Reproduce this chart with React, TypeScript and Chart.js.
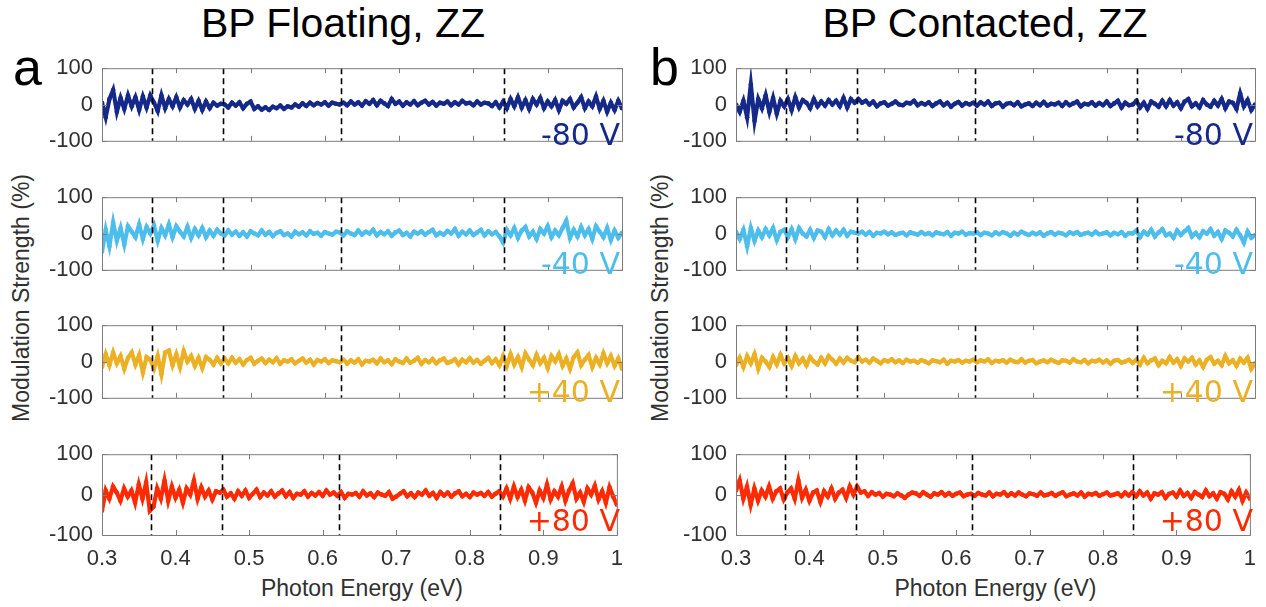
import React, { useEffect, useRef } from "react";
import { Chart, registerables } from "chart.js";

Chart.register(...registerables);

// ---------- data ----------
const energyMin = 0.3;
const energyMax = 1.0;
const xTickValues = [0.3, 0.4, 0.5, 0.6, 0.7, 0.8, 0.9, 1.0];
const xTickLabels = ["0.3", "0.4", "0.5", "0.6", "0.7", "0.8", "0.9", "1"];
const yTickValues = [-100, 0, 100];
const yTickLabels = ["-100", "0", "100"];
const markerEnergies = [0.367, 0.463, 0.622, 0.841];
const voltageLabels = ["-80 V", "-40 V", "+40 V", "+80 V"];
const seriesColors = ["#15298a", "#4dbdec", "#ecb025", "#ff2a00"];
const panelTitles = ["BP Floating, ZZ", "BP Contacted, ZZ"];
const panelLetters = ["a", "b"];
const xAxisTitle = "Photon Energy (eV)";
const yAxisTitle = "Modulation Strength (%)";

const floatingM80 = [
  5, -35, 15, 40, -20, 18, -12, 25, -5, 20, -15, 22, -8, 25,
  5, -18, 25, -10, 15, -5, 20, -8, 12, 0, 15, -12, 10, -15, 8, -10, 5, -3, 2,
  0, -8, 5, -3, 6, -10, 2, 8, -12, -5, -14, -8, -15, -6, -10, -3, -12, -5, -8, 0, -6, 3, -4, 5, -2, 4, 0, 6, -3, 5, 2,
  0, 5, -2, 8, 0, 6, -3, 9, 2, 12, -2, 10, 3, -4, 15, 2, 8, -3, 6, 0, 9, -2, 5, 10, 0, 7, -3, 5, 2, 8, -2, 6, 0, 10, 3, 5, -2, 8, 0, 5, 3, -4, 6, -8,
  8, -10, 15, -5, 20, -8, 12, -12, 15, 0, 18, -10, 8, -5, 12, -15, 10, 2, 15, -8, 5, 20, -10, 8, -5, 22, -12, 10, -20, 5, -15, 10, -10,
];
const floatingM40 = [
  -50, 10, -35, 30, -20, 15, -30, 20, 5, -10, 25, -15, 18, 0,
  22, -20, 15, -5, 25, -10, 20, 5, -8, 18, -12, 12, -5, 15, -10, 8, -6, 10, 0,
  -5, 8, -3, 5, -6, 3, -8, 6, 0, -5, 8, -3, 4, -7, 2, 6, -4, 0, -8, 5, -2, 3, -5, 6, -1, 2, -6, 4, 0, -3, 5,
  3, -5, 6, 0, -4, 8, -3, 5, 0, 10, -5, 4, -2, 6, -6, 3, 8, -4, 2, -8, 5, 0, 6, -3, 4, 10, -5, 2, -3, 7, 0, 12, -6, 5, -2, 8, -4, 3, 10, -5, 6, -2, 4, -8,
  -25, 10, -5, 15, -12, 8, 18, -8, 5, -15, 12, 0, 20, -10, 8, -5, 15, 35, -12, 10, -8, 18, -5, 12, -15, 20, 5, -10, 15, -18, 8, -12, 2,
];
const floatingP40 = [
  -15, 20, -10, 25, -5, 15, -20, 10, 25, -8, 18, -30, 12, 5,
  -20, 15, -35, 25, 30, -10, 20, -15, 28, 0, 15, -12, 10, -18, 12, 5, -8, 10, -5,
  8, -5, 10, -3, 6, -8, 4, 10, -6, 2, 8, -4, 5, -2, 9, -6, 3, 0, 6, -5, 2, 8, -3, 5, -8, 4, 0, 6, -4, 3, 1,
  -2, 5, -6, 3, -3, 6, -8, 2, 0, 5, -5, 8, -2, 3, -7, 6, 0, -4, 8, -3, 2, 10, -6, 4, -2, 7, -5, 3, 8, -4, 0, 6, -8, 5, -2, 9, -3, 4, -6, 2, 10, -4, 6, -10,
  15, -12, 20, -8, 12, -15, 22, 5, -10, 18, -5, 10, -18, 15, 0, 20, -12, 8, -20, 12, 25, -10, 5, 18, -15, 10, -8, 22, -5, 15, -12, 8, -20,
];
const floatingP80 = [
  -40, 10, -10, 20, 5, -15, 15, -5, 10, -20, 25, -10, 30, -40,
  -30, 15, -10, 35, -15, 20, -8, 12, -20, 15, 0, 35, -10, 18, -5, 10, -12, 8, 5,
  12, -5, 3, -10, 8, -3, 10, -8, 2, 12, -6, 5, -2, 8, -5, 3, 10, -4, 6, -8, 2, 0, 8, -5, 4, -2, 6, -3, 10, 0, 5,
  -3, 6, -8, 2, 0, 4, -5, 8, -2, 3, -6, 5, 0, -3, 6, -10, -5, 2, 8, -4, 3, -6, 5, 0, 10, -3, 4, -8, 6, -2, 5, -5, 3, 8, -4, 2, -6, 5, 0, 4, -3, 6, -5, 2,
  8, -5, 15, -10, 20, -6, 12, -15, 18, 5, -20, 10, -8, 25, -12, 8, -5, 20, -15, 10, 28, -10, 5, -18, 15, 0, 22, -12, 8, -20, 18, -5, -25,
];
const contactedM80 = [
  0, -20, 10, -35, 55, -45, 15, -10, 25, -20, 18, -25, 10, -5,
  15, -15, 20, -8, 12, 5, -10, 15, -5, 8, -3, 12, 0, 10, -5, 18, -8, 15, 5,
  15, 5, 10, 0, 8, -5, 3, 6, -3, 2, 8, 0, -2, 5, 3, 10, -2, 4, 0, 6, -4, 3, 8, -2, 5, -6, 2, 7, -3, 4, 0,
  5, -3, 6, 0, 8, -4, 3, 5, -6, 2, 4, -2, 6, -5, 0, 3, -4, 5, -2, 7, -3, 2, 0, 5, -4, 6, -2, 3, 8, -5, 2, 0, 6, -3, 4, -2, 8, -4, 3, 10, -8, 5, -2, 0,
  10, -8, 5, -12, 8, 2, -6, 10, -5, 12, -3, 6, -10, 8, 15, -5, 3, -8, 12, 0, -6, 10, -3, 15, -10, 8, 5, -12, 30, -5, 12, -15, 0,
];
const contactedM40 = [
  5, -15, 10, -35, 15, -20, 8, -10, 12, -5, 15, -18, 5, 10,
  -10, 12, -15, 15, 0, -8, 10, -12, 8, 5, -10, 12, -5, 8, -3, 10, -6, 5, 2,
  0, 5, -3, 4, -6, 2, 0, 5, -2, 3, -4, 0, 2, -5, 3, 0, -3, 4, -2, 1, -5, 3, 0, -2, 4, -6, 2, 0, 5, -3, 1,
  0, 3, -4, 2, 0, -5, 3, -2, 4, 0, -6, 2, -3, 5, 0, -4, 2, -2, 3, -6, 0, 4, -3, 2, 0, -5, 3, -1, 4, -4, 0, 2, -3, 5, -2, 0, 3, -5, 2, -2, 4, -6, 1, 0,
  8, -10, 5, -3, 10, -8, 3, 12, -5, 0, -12, 8, -4, 6, 15, -8, 2, -10, 6, 0, 12, -6, 4, -15, 8, 2, -8, 10, -5, -25, 5, -12, -5,
];
const contactedP40 = [
  -10, 10, -15, 15, -5, 20, -20, 10, 0, -15, 12, -8, 18, -5,
  10, -12, 15, -5, 8, -10, 12, 0, -8, 10, -5, 15, 5, -6, 8, -3, 10, 2, -2,
  12, 0, 5, -3, 8, 2, -5, 4, 0, 6, -2, 3, -4, 5, 0, 2, -3, 4, 0, -5, 3, 1, -2, 5, -6, 2, 0, 4, -3, 2, 0,
  5, -2, 3, 0, 6, -4, 2, 0, 4, -3, 5, 0, -2, 6, -3, 2, 4, -5, 0, 3, -2, 5, 0, -4, 3, 2, -3, 6, 0, -2, 4, -5, 2, 0, 5, -3, 3, -6, 2, 4, -3, 0, 5, -4,
  5, -8, 10, -5, 3, 8, -10, 2, -5, 12, -3, 6, -12, 8, 0, 10, -8, 3, -15, 5, 12, -6, 2, -10, 15, -5, 3, -12, 8, -3, 10, -20, -5,
];
const contactedP80 = [
  10, 35, -10, 20, -25, 15, -15, 10, -5, 20, -10, 8, 15, -12,
  5, 15, -10, 35, -8, 12, -15, 5, 10, -18, 8, -5, 15, -10, 5, 12, -8, 20, 0,
  20, 5, 8, -3, 6, 0, 4, -5, 2, 0, -4, 3, -2, -8, 0, 5, 3, -3, 6, 0, -5, 3, 0, 6, -2, 4, -3, 2, 5, -4, 0,
  2, -3, 4, 0, -2, 5, -4, 2, 0, 6, -3, 3, -2, 5, 0, -4, 3, 1, -3, 5, -2, 0, 4, -3, 2, 6, -4, 0, 3, -2, 5, -5, 2, 0, 4, -3, 1, 5, -2, 0, 3, -4, 5, -2,
  6, -4, 8, -2, 5, -10, 3, 0, 6, -8, 2, 5, -5, 10, -3, 4, -8, 6, 0, -6, 10, -4, 3, -10, 6, 2, -12, 8, -5, 12, -15, 5, -10,
];

const floatingSeries = [floatingM80, floatingM40, floatingP40, floatingP80];
const contactedSeries = [contactedM80, contactedM40, contactedP40, contactedP80];

// ---------- layout ----------
const panelLefts = [102, 736];
const panelWidths = [520, 519];
const rowTops = [60, 189, 317, 446];
const rowHeight = 89;
const Y_AXIS_W = 62;
const PAD_TOP = 14;
const PAD_RIGHT = 12;
const X_AXIS_H = 40;
const FONT = "'Liberation Sans', Arial, Helvetica, sans-serif";
const TICK_COLOR = "#303030";

const framePlugin = {
  id: "matlabFrame",
  afterDatasetsDraw(chart: any) {
    const { ctx, chartArea, scales } = chart;
    const { left, right, top, bottom } = chartArea;
    const x = scales.x;
    const y = scales.y;
    ctx.save();
    // dashed markers
    ctx.strokeStyle = "#000000";
    ctx.lineWidth = 1.6;
    ctx.setLineDash([6, 4]);
    for (const e of markerEnergies) {
      const px = Math.round(x.getPixelForValue(e)) + 0.5;
      ctx.beginPath();
      ctx.moveTo(px, top);
      ctx.lineTo(px, bottom);
      ctx.stroke();
    }
    ctx.setLineDash([]);
    // frame
    ctx.strokeStyle = "#7d7d7d";
    ctx.lineWidth = 1;
    ctx.strokeRect(left + 0.5, top + 0.5, right - left, bottom - top);
    // inward ticks
    ctx.beginPath();
    for (const v of xTickValues) {
      const px = Math.round(x.getPixelForValue(v)) + 0.5;
      ctx.moveTo(px, top);
      ctx.lineTo(px, top + 5);
      ctx.moveTo(px, bottom);
      ctx.lineTo(px, bottom - 5);
    }
    for (const v of yTickValues) {
      const py = Math.round(y.getPixelForValue(v)) + 0.5;
      ctx.moveTo(left, py);
      ctx.lineTo(left + 5, py);
      ctx.moveTo(right, py);
      ctx.lineTo(right - 5, py);
    }
    ctx.stroke();
    ctx.restore();
  },
};

type PanelProps = {
  left: number;
  top: number;
  width: number;
  height: number;
  values: number[];
  color: string;
  showX: boolean;
};

function Panel({ left, top, width, height, values, color, showX }: PanelProps) {
  const ref = useRef<HTMLCanvasElement>(null);
  const cw = Y_AXIS_W + width + PAD_RIGHT;
  const ch = PAD_TOP + height + (showX ? X_AXIS_H : PAD_TOP);
  useEffect(() => {
    const chart = new Chart(ref.current as HTMLCanvasElement, {
      type: "line",
      data: {
        datasets: [
          {
            data: values.map((v, i) => ({
              x: energyMin + ((energyMax - energyMin) * i) / (values.length - 1),
              y: v,
            })),
            borderColor: color,
            backgroundColor: color,
            borderWidth: 4.2,
            pointRadius: 2.3,
            pointBorderWidth: 0,
            pointBackgroundColor: color,
            tension: 0,
          },
        ],
      },
      options: {
        animation: false,
        responsive: false,
        maintainAspectRatio: false,
        events: [],
        layout: {
          padding: { top: PAD_TOP, right: PAD_RIGHT, bottom: showX ? 0 : PAD_TOP, left: 0 },
        },
        plugins: { legend: { display: false }, tooltip: { enabled: false } },
        scales: {
          x: {
            type: "linear",
            min: energyMin,
            max: energyMax,
            display: showX,
            grid: { display: false, drawTicks: false },
            border: { display: false },
            afterBuildTicks: (s: any) => {
              s.ticks = xTickValues.map((v) => ({ value: v }));
            },
            afterFit: (s: any) => {
              s.height = showX ? X_AXIS_H : 0;
            },
            ticks: {
              callback: (_v: any, i: number) => xTickLabels[i],
              font: { family: FONT, size: 22 },
              color: TICK_COLOR,
              padding: 11,
              maxRotation: 0,
              autoSkip: false,
            },
          },
          y: {
            type: "linear",
            min: -100,
            max: 100,
            grid: { display: false, drawTicks: false },
            border: { display: false },
            afterBuildTicks: (s: any) => {
              s.ticks = yTickValues.map((v) => ({ value: v }));
            },
            afterFit: (s: any) => {
              s.width = Y_AXIS_W;
            },
            ticks: {
              callback: (_v: any, i: number) => yTickLabels[i],
              font: { family: FONT, size: 22 },
              color: TICK_COLOR,
              padding: 9,
              autoSkip: false,
            },
          },
        },
      },
      plugins: [framePlugin],
    } as any);
    return () => chart.destroy();
  }, []);
  return (
    <canvas
      ref={ref}
      width={cw}
      height={ch}
      style={{ position: "absolute", left: left - Y_AXIS_W, top: top - PAD_TOP, width: cw, height: ch }}
    />
  );
}

const textBase: React.CSSProperties = {
  position: "absolute",
  whiteSpace: "nowrap",
  lineHeight: 1,
  fontFamily: FONT,
};

export default function App() {
  const columns = [floatingSeries, contactedSeries];
  const titleCenters = [343, 985];
  const letterLefts = [13, 650];
  const yTitleCenters = [21, 660];
  const labelRights = [620, 1253];
  return (
    <div
      style={{
        position: "absolute",
        left: 0,
        top: 0,
        width: 1266,
        height: 607,
        overflow: "hidden",
        background: "#ffffff",
      }}
    >
      {columns.map((series, c) => (
        <React.Fragment key={c}>
          <div
            style={{
              ...textBase,
              left: titleCenters[c],
              top: 3,
              fontSize: 41,
              color: "#000",
              transform: "translateX(-50%)",
            }}
          >
            {panelTitles[c]}
          </div>
          <div style={{ ...textBase, left: letterLefts[c], top: 41, fontSize: 52, color: "#000" }}>
            {panelLetters[c]}
          </div>
          <div
            style={{
              ...textBase,
              left: yTitleCenters[c],
              top: 298,
              fontSize: 23,
              color: TICK_COLOR,
              transform: "translate(-50%, -50%) rotate(-90deg)",
            }}
          >
            {yAxisTitle}
          </div>
          <div
            style={{
              ...textBase,
              left: panelLefts[c] + panelWidths[c] / 2,
              top: 577,
              fontSize: 23,
              color: TICK_COLOR,
              transform: "translateX(-50%)",
            }}
          >
            {xAxisTitle}
          </div>
          {series.map((vals, r) => (
            <React.Fragment key={r}>
              <Panel
                left={panelLefts[c]}
                top={rowTops[r]}
                width={panelWidths[c]}
                height={rowHeight}
                values={vals}
                color={seriesColors[r]}
                showX={r === 3}
              />
              <div
                style={{
                  ...textBase,
                  fontFamily: "'DejaVu Sans', sans-serif",
                  fontSize: 30,
                  color: seriesColors[r],
                  right: 1266 - labelRights[c],
                  top: rowTops[r] + 60,
                }}
              >
                {voltageLabels[r]}
              </div>
            </React.Fragment>
          ))}
        </React.Fragment>
      ))}
    </div>
  );
}
